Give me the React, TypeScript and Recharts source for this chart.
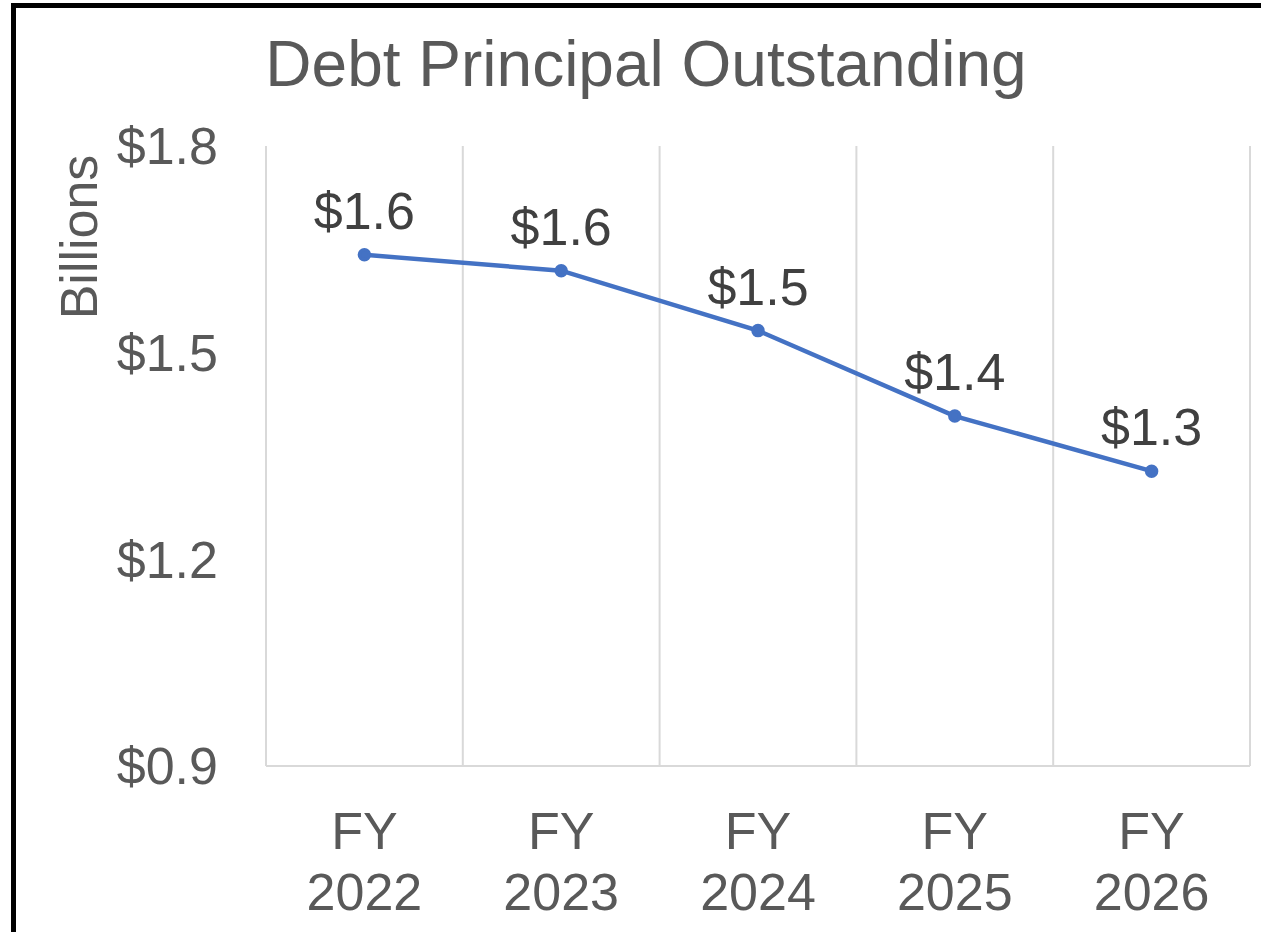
import React from 'react';
import { LineChart, Line, XAxis, YAxis, ReferenceLine, LabelList } from 'recharts';

const categories = ['FY 2022', 'FY 2023', 'FY 2024', 'FY 2025', 'FY 2026'];
const principal = [1.642, 1.619, 1.532, 1.408, 1.328];
const yTicks = [0.9, 1.2, 1.5, 1.8];

const FONT = '"Liberation Sans", Arial, sans-serif';
const GRAY = '#595959';
const LINE_BLUE = '#4472C4';

const data = categories.map((c, i) => ({ idx: i, label: c, value: principal[i] }));
// boundaries between categories (Excel style vertical gridlines)
const boundaries = [...categories.map((_, i) => i - 0.5), categories.length - 0.5];

const XTick = (props: any) => {
  const { x, y, payload } = props;
  const [fy, year] = (categories[payload.value] || '').split(' ');
  return (
    <text x={x} y={y} textAnchor="middle" fill={GRAY} fontSize={52} fontFamily={FONT}>
      <tspan x={x} dy={81}>{fy}</tspan>
      <tspan x={x} dy={61}>{year}</tspan>
    </text>
  );
};

export default function App() {
  return (
    <div style={{ position: 'fixed', left: 0, top: 0, width: 1261, height: 932, overflow: 'hidden', background: '#fff' }}>
      <div
        style={{
          position: 'absolute',
          left: 11,
          top: 3,
          width: 1320,
          height: 1000,
          border: '5px solid #000',
          boxSizing: 'border-box'
        }}
      />
      <div style={{ position: 'absolute', left: 0, top: 0 }}>
        <LineChart
          width={1261}
          height={932}
          data={data}
          margin={{ top: 146, right: 11, bottom: 0, left: 0 }}
          style={{ fontFamily: FONT }}
        >
          {boundaries.map((b) => (
            <ReferenceLine key={b} x={b} stroke="#d9d9d9" strokeWidth={2} />
          ))}
          <XAxis
            dataKey="idx"
            type="number"
            domain={[-0.5, categories.length - 0.5]}
            ticks={categories.map((_, i) => i)}
            tick={<XTick />}
            axisLine={{ stroke: '#d9d9d9', strokeWidth: 2 }}
            tickLine={false}
            tickSize={0}
            height={166}
          />
          <YAxis
            domain={[0.9, 1.8]}
            ticks={yTicks}
            width={266}
            axisLine={false}
            tickLine={false}
            tickSize={0}
            tickMargin={48}
            tickFormatter={(v: number) => `$${v.toFixed(1)}`}
            tick={{ fill: GRAY, fontSize: 52, fontFamily: FONT }}
          />
          <Line
            type="linear"
            dataKey="value"
            stroke={LINE_BLUE}
            strokeWidth={4.5}
            dot={{ r: 5, fill: LINE_BLUE, stroke: LINE_BLUE, strokeWidth: 3.5 }}
            activeDot={false}
            isAnimationActive={false}
          >
            <LabelList
              dataKey="value"
              position="top"
              offset={26}
              formatter={(v: any) => `$${Number(v).toFixed(1)}`}
              style={{ fill: '#404040', fontSize: 52, fontFamily: FONT }}
            />
          </Line>
        </LineChart>
      </div>
      <svg width={1261} height={932} style={{ position: 'absolute', left: 0, top: 0, pointerEvents: 'none' }}>
        <text x={646} y={86} textAnchor="middle" fill={GRAY} fontSize={64} fontFamily={FONT}>
          Debt Principal Outstanding
        </text>
        <text transform="translate(97,237) rotate(-90)" textAnchor="middle" fill={GRAY} fontSize={52} fontFamily={FONT}>
          Billions
        </text>
      </svg>
    </div>
  );
}
